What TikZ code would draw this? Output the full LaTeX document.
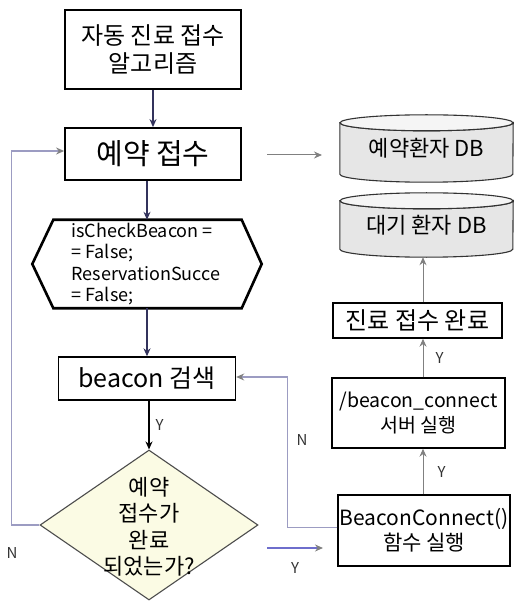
\documentclass[tikz,border=0pt]{standalone}
\usepackage{fontspec}
\setmainfont{Noto Sans CJK KR}
\usepackage{tikz}
\usetikzlibrary{
  arrows.meta,
  shapes.geometric,
  positioning,
  calc,
  backgrounds
}
\definecolor{fcNavy}{HTML}{33335C}
\definecolor{fcLoop}{HTML}{9C9CC2}
\definecolor{fcYes}{HTML}{6E6ECC}
\definecolor{fcGray}{HTML}{808080}
\definecolor{fcDiamond}{HTML}{FBFBE4}
\definecolor{fcDB}{HTML}{E6E6E6}
\tikzset{
  fcnode/.style={
    draw, align=center, inner sep=1pt, line width=1.4pt
  },
  startbox/.style={fcnode, line width=1.8pt, minimum width=176pt, minimum height=79pt,
    font=\fontsize{24}{28}\selectfont},
  recvbox/.style={fcnode, line width=1.8pt, minimum width=176pt, minimum height=52pt,
    font=\fontsize{29}{32}\selectfont},
  hexbox/.style={minimum width=229pt, minimum height=88pt, inner sep=0pt},
  hexline/.style={line width=2.6pt, line join=miter},
  hextext/.style={align=left, inner sep=0pt, font=\fontsize{18}{21.5}\selectfont},
  searchbox/.style={fcnode, minimum width=177pt, minimum height=43pt,
    font=\fontsize{25}{28}\selectfont},
  decision/.style={diamond, draw=black!70, line width=1.1pt, fill=fcDiamond,
    minimum width=218pt, minimum height=150pt, aspect=1.45, inner sep=0pt},
  decisiontext/.style={align=center, inner sep=0pt, font=\fontsize{22}{26.5}\selectfont},
  sidebox/.style={fcnode, minimum width=172pt, minimum height=70pt,
    font=\fontsize{21}{25}\selectfont},
  donebox/.style={fcnode, minimum width=169pt, minimum height=35pt,
    font=\fontsize{24}{26}\selectfont},
  dbnode/.style={minimum width=173pt, inner sep=0pt, font=\fontsize{22}{24}\selectfont},
  dbshape/.style={draw=black!80, line width=1.1pt, fill=fcDB},
  flow/.style={-{Stealth[length=8pt, width=7pt]}, line width=1.2pt, fcNavy},
  loopline/.style={-{Stealth[length=8pt, width=7pt, fcGray]}, line width=1.2pt, fcLoop},
  yesline/.style={-{Stealth[length=8pt, width=7pt, fcGray]}, line width=1.2pt, fcYes},
  grayflow/.style={-{Stealth[length=8pt, width=7pt]}, line width=1pt, fcGray},
  tag/.style={font=\fontsize{15}{15}\selectfont, text=black!80, inner sep=0pt}
}
\begin{document}
\begin{tikzpicture}[x=1pt, y=1pt]
  \useasboundingbox (0,0) rectangle (515,-601);

  % left column
  \node[startbox] (start) at (153,-49.5) {자동 진료 접수\\알고리즘};
  \node[recvbox] (recv) at (153,-154) {예약 접수};
  \node[hexbox] (init) at (147,-264) {};
  \draw[hexline] (init.west) -- ([xshift=21pt]init.north west) -- ([xshift=-20pt]init.north east)
    -- (init.east) -- ([xshift=-20pt]init.south east) -- ([xshift=21pt]init.south west) -- cycle;
  \node[hextext, anchor=north west] (inittxt) at ([xshift=39pt, yshift=-3pt]init.north west)
    {isCheckBeacon =\\= False;\\ReservationSucce\\= False;};
  \node[searchbox] (search) at (147,-378.5) {beacon 검색};
  \node[decision] (check) at (149,-525) {};
  \node[decisiontext] (checktxt) at (149,-527) {예약\\접수가\\완료\\되었는가?};

  % right column
  \node[dbnode, minimum height=67pt] (rsvdb) at (426.5,-148.5) {예약환자 DB};
  \node[dbnode, minimum height=64pt] (waitdb) at (426.5,-225) {대기 환자 DB};
  \node[donebox] (done) at (417.5,-320.5) {진료 접수 완료};
  \node[sidebox, minimum width=173pt, font=\fontsize{19.5}{25}\selectfont] (server) at (418.5,-413)
    {/beacon\_connect\\서버 실행};
  \node[sidebox, minimum height=71pt] (conn) at (424,-530.5) {BeaconConnect()\\함수 실행};

  \begin{scope}[on background layer]
    \foreach \db in {rsvdb, waitdb} {
      \draw[dbshape] ([yshift=-8pt]\db.north west) -- ([yshift=8pt]\db.south west)
        arc[start angle=180, end angle=360, x radius=86.5pt, y radius=8pt]
        -- ([yshift=-8pt]\db.north east)
        arc[start angle=0, end angle=-180, x radius=86.5pt, y radius=8pt] -- cycle;
      \draw[dbshape, fill=black!4] ([yshift=-8pt]\db.north) ellipse[x radius=86.5pt, y radius=8pt];
    }
  \end{scope}

  % main flow
  \draw[flow] (start.south) -- (recv.north);
  \draw[flow] (recv.south -| init) -- (init.north);
  \draw[flow] (init.south) -- (search.north);
  \draw[flow, black] (search.south -| check) -- (check.north)
    node[tag, pos=0.5, right=6pt] {Y};

  % loops back
  \draw[loopline] (check.west) -- ++(-28,0) |- ([yshift=3pt]recv.west);
  \node[tag] (nleft) at (12,-553) {N};
  \draw[loopline] ([yshift=3pt]conn.west) -- ++(-50,0) |- ([yshift=1.5pt]search.east);
  \node[tag] (nright) at (302,-440) {N};

  % yes branch
  \coordinate (yesA) at (267,-548);
  \coordinate (yesB) at (323,-548);
  \draw[yesline] (yesA) -- (yesB);
  \node[tag] (yesY) at (295,-568) {Y};

  % right column flow
  \draw[grayflow] (conn.north -| 423,0) -- (server.south -| 423,0)
    node[tag, midway, right=14pt] {Y};
  \draw[grayflow] (server.north -| 423,0) -- (done.south -| 423,0)
    node[tag, midway, right=12pt] {Y};
  \draw[grayflow] (done.north -| 423,0) -- (waitdb.south -| 423,0);
  \coordinate (dbA) at (267,-155);
  \coordinate (dbB) at (322,-155);
  \draw[grayflow] (dbA) -- (dbB);
\end{tikzpicture}
\end{document}
